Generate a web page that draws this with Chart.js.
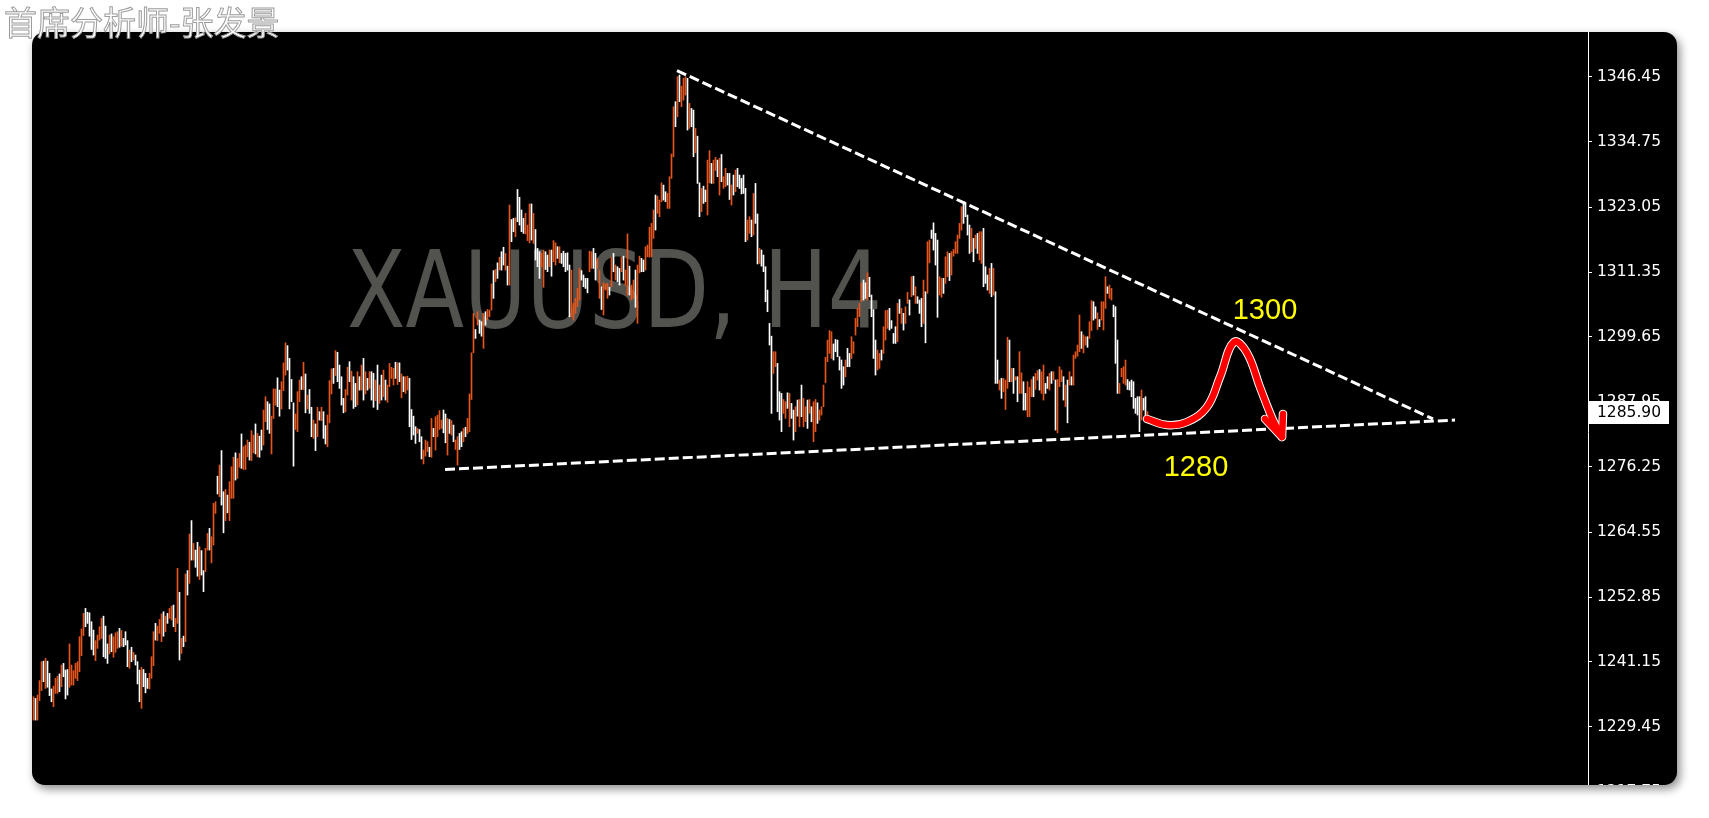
<!DOCTYPE html>
<html>
<head>
<meta charset="utf-8">
<script src="https://cdn.jsdelivr.net/npm/chart.js@4.4.1/dist/chart.umd.min.js"></script>
<style>
    body {
        margin: 0;
        width: 1709px;
        height: 818px;
        background: #ffffff;
        position: relative;
        overflow: hidden;
    }

    #author {
        position: absolute;
        left: 4px;
        top: 3px;
        z-index: 2;
        font-family: "Noto Sans CJK SC", sans-serif;
        font-size: 33px;
        line-height: 36px;
        color: #ffffff;
        -webkit-text-stroke: 1px #9c9c9c;
        white-space: nowrap;
    }

    #panel {
        position: absolute;
        left: 32px;
        top: 32px;
        width: 1645px;
        height: 753px;
        background: #000000;
        border-radius: 13px;
        overflow: hidden;
        box-shadow: 3px 4px 10px rgba(0, 0, 0, 0.45);
    }

    #panel canvas {
        position: absolute;
        left: 0;
        top: 0;
    }
</style>
</head>
<body>
<div id="author">首席分析师-张发景</div>
<div id="panel"><canvas id="price-chart" width="1645" height="800"></canvas></div>

<script>
// =========================================================
// DATA
// =========================================================

    const symbolLabel = "XAUUSD, H4";
    const lastPrice = 1285.90;

    const priceTicks = [1346.45, 1334.75, 1323.05, 1311.35, 1299.65, 1287.95, 1276.25, 1264.55, 1252.85, 1241.15, 1229.45, 1217.75];

    // one entry per H4 bar, oldest first
    const barHighs = [
        1234.9,1234.6,1235.2,1237.8,1241.2,1241.3,1241.8,1241.3,1239.1,1236.3,
        1236.8,1238.2,1238.6,1239.0,1240.6,1240.9,1239.7,1239.8,1244.4,1240.6,
        1239.6,1240.9,1241.2,1245.7,1247.1,1249.9,1250.8,1250.1,1250.0,1248.4,
        1246.9,1245.0,1246.0,1247.5,1249.0,1249.4,1247.6,1244.4,1246.0,1246.2,
        1245.7,1246.4,1246.6,1247.2,1246.8,1245.4,1246.6,1245.0,1243.3,1243.8,
        1242.9,1242.4,1241.2,1239.7,1240.2,1239.8,1239.1,1238.2,1239.1,1242.1,
        1246.6,1248.1,1247.6,1248.8,1249.8,1250.2,1249.4,1249.9,1250.8,1251.2,
        1251.4,1249.0,1258.0,1253.7,1245.4,1245.8,1257.0,1257.6,1264.2,1266.6,
        1262.5,1261.3,1262.7,1261.9,1261.2,1257.6,1261.6,1264.3,1265.2,1263.7,
        1269.7,1270.0,1274.6,1276.6,1279.2,1271.8,1272.2,1271.2,1273.6,1276.3,
        1278.0,1278.8,1277.8,1278.7,1282.2,1279.9,1280.2,1281.1,1280.7,1282.8,
        1282.0,1284.0,1282.3,1281.8,1282.9,1286.5,1288.9,1288.0,1287.6,1285.4,
        1290.3,1290.3,1292.3,1290.1,1291.6,1295.0,1298.6,1298.1,1295.8,1292.0,
        1287.8,1285.8,1289.8,1291.9,1292.5,1295.1,1293.0,1289.2,1290.2,1287.0,
        1284.7,1284.0,1287.0,1286.2,1287.0,1286.2,1283.7,1285.6,1291.8,1293.9,
        1294.0,1297.2,1296.9,1294.6,1292.5,1288.6,1290.2,1294.2,1295.2,1293.5,
        1292.5,1291.3,1293.4,1292.5,1294.6,1295.8,1293.4,1292.2,1293.4,1293.4,
        1293.1,1291.9,1294.6,1291.0,1292.8,1293.7,1291.9,1291.0,1294.9,1294.2,
        1294.0,1295.1,1295.0,1295.0,1293.0,1292.5,1292.5,1292.6,1292.2,1286.6,
        1285.4,1283.5,1283.2,1283.0,1281.7,1279.3,1281.1,1280.8,1279.8,1285.0,
        1283.2,1285.3,1285.6,1286.4,1284.7,1286.5,1285.8,1285.0,1284.8,1284.6,
        1283.8,1281.1,1281.7,1282.3,1282.6,1283.2,1283.4,1285.0,1289.4,1296.8,
        1303.9,1301.0,1304.2,1302.7,1302.4,1303.9,1304.2,1304.6,1304.5,1309.2,
        1311.6,1311.8,1313.0,1314.0,1315.0,1315.8,1314.7,1312.4,1323.4,1320.8,
        1321.0,1321.1,1326.2,1324.8,1322.5,1321.0,1321.9,1319.8,1323.6,1323.6,
        1321.9,1319.0,1315.6,1315.0,1314.7,1315.3,1315.0,1314.4,1315.3,1315.3,
        1317.0,1316.6,1315.9,1315.9,1314.7,1315.1,1314.7,1314.8,1312.6,1311.7,
        1305.7,1306.6,1308.4,1312.0,1311.6,1310.8,1310.2,1310.2,1315.1,1315.0,
        1315.6,1314.7,1313.8,1311.7,1308.7,1309.4,1309.2,1309.3,1308.6,1314.0,
        1314.7,1312.6,1312.3,1312.0,1314.0,1314.2,1311.7,1318.2,1312.4,1309.0,
        1309.9,1311.7,1312.6,1314.2,1313.8,1313.5,1315.9,1316.2,1319.4,1320.1,
        1322.5,1325.2,1325.0,1324.3,1327.4,1327.0,1325.8,1325.5,1328.5,1332.6,
        1341.1,1342.0,1346.5,1346.8,1344.8,1346.2,1346.5,1346.2,1341.7,1340.8,
        1340.5,1337.2,1335.8,1327.4,1326.4,1326.8,1326.1,1331.5,1333.2,1330.9,
        1331.5,1332.0,1331.5,1331.8,1332.5,1328.5,1330.0,1329.1,1329.1,1327.0,
        1328.8,1329.7,1330.0,1328.8,1328.2,1328.8,1326.4,1320.7,1321.3,1320.7,
        1325.5,1327.3,1321.8,1315.6,1315.3,1314.4,1312.3,1308.1,1302.1,1299.8,
        1297.0,1297.0,1294.9,1289.8,1289.5,1288.4,1288.0,1289.6,1289.5,1287.7,
        1286.5,1287.1,1288.3,1288.4,1291.0,1288.6,1287.1,1288.3,1288.4,1287.1,
        1288.0,1288.4,1287.8,1286.5,1287.1,1291.0,1296.0,1299.1,1300.8,1300.6,
        1298.4,1299.2,1299.1,1296.1,1295.5,1294.3,1295.5,1297.6,1296.7,1299.7,
        1298.8,1303.0,1304.8,1305.7,1309.4,1309.9,1309.4,1311.2,1310.4,1307.2,
        1304.6,1299.1,1297.3,1296.7,1297.3,1301.5,1304.4,1304.5,1304.8,1302.6,
        1300.3,1301.5,1305.7,1306.4,1304.8,1303.9,1305.1,1307.7,1306.3,1310.5,
        1310.6,1308.7,1306.9,1306.3,1306.6,1309.9,1307.8,1316.8,1317.1,1318.9,
        1320.2,1318.3,1317.1,1310.5,1310.2,1310.2,1314.1,1315.0,1314.7,1315.0,
        1315.4,1316.8,1318.0,1320.1,1323.1,1324.0,1323.7,1321.6,1319.8,1319.2,
        1317.4,1318.0,1318.3,1318.6,1318.6,1319.2,1312.3,1310.8,1312.0,1312.9,
        1312.0,1307.8,1295.5,1291.9,1292.2,1292.2,1291.9,1299.6,1299.1,1294.0,
        1294.0,1292.5,1292.5,1297.0,1293.2,1291.6,1289.5,1291.6,1290.6,1292.0,
        1292.5,1293.1,1293.6,1293.8,1293.4,1294.6,1291.3,1292.5,1293.1,1293.4,
        1293.4,1291.9,1292.0,1294.3,1293.7,1292.5,1291.0,1291.9,1293.4,1292.5,
        1296.4,1297.0,1298.2,1303.6,1300.6,1300.0,1299.7,1299.7,1302.4,1306.2,
        1306.0,1305.1,1304.0,1302.8,1306.0,1306.0,1310.5,1308.7,1309.0,1308.4,
        1305.4,1305.1,1299.1,1291.3,1294.0,1294.3,1295.5,1292.0,1291.6,1291.9,
        1291.6,1288.6,1288.9,1288.9,1290.1,1288.6,1288.9,1286.2
    ];

    const barLows = [
        1230.7,1230.7,1230.7,1234.2,1236.0,1237.6,1236.4,1236.6,1235.1,1234.0,
        1233.1,1235.5,1235.5,1235.8,1236.7,1238.5,1234.5,1235.2,1236.6,1237.0,
        1237.0,1238.2,1237.8,1239.4,1242.3,1245.9,1247.5,1248.1,1245.8,1243.4,
        1242.4,1241.4,1243.6,1245.1,1245.4,1242.1,1241.8,1240.9,1242.6,1243.0,
        1242.0,1242.9,1243.6,1243.8,1244.0,1243.9,1244.2,1240.3,1240.0,1241.2,
        1241.5,1240.6,1237.2,1234.0,1232.8,1236.7,1235.6,1236.4,1236.3,1238.2,
        1240.5,1245.1,1245.0,1246.3,1244.8,1245.8,1246.6,1248.1,1249.0,1248.7,
        1247.5,1246.6,1248.1,1241.5,1242.7,1243.9,1244.8,1253.2,1255.3,1259.5,
        1259.5,1258.2,1256.6,1256.0,1256.8,1253.8,1257.4,1261.3,1261.3,1259.0,
        1262.2,1267.9,1271.4,1270.9,1269.4,1264.4,1266.6,1268.0,1266.6,1270.6,
        1270.6,1273.9,1274.2,1276.2,1276.0,1275.8,1275.8,1278.1,1277.5,1277.4,
        1278.8,1278.6,1278.1,1278.0,1279.3,1280.2,1284.4,1283.0,1282.3,1278.6,
        1285.0,1287.4,1287.1,1285.4,1286.7,1290.0,1292.8,1293.7,1286.7,1288.0,
        1276.4,1283.0,1282.6,1288.0,1290.2,1290.2,1286.0,1286.7,1285.9,1281.7,
        1281.4,1279.2,1281.7,1284.7,1284.6,1281.4,1280.4,1279.9,1284.2,1289.4,
        1291.3,1292.7,1291.6,1290.4,1287.4,1286.0,1286.2,1289.2,1291.6,1288.3,
        1286.8,1287.1,1287.4,1290.1,1290.1,1288.3,1289.4,1290.1,1290.4,1288.3,
        1287.0,1288.2,1286.6,1287.7,1288.3,1288.9,1288.3,1287.9,1290.7,1292.2,
        1291.0,1292.2,1291.1,1291.6,1288.7,1289.8,1289.5,1290.1,1283.5,1281.2,
        1282.0,1280.5,1282.3,1280.8,1277.7,1276.8,1278.2,1279.0,1278.1,1278.0,
        1281.7,1279.3,1281.7,1283.0,1283.2,1282.4,1280.6,1278.4,1282.3,1282.0,
        1280.8,1279.4,1276.6,1279.4,1279.9,1280.8,1281.7,1282.3,1282.6,1288.4,
        1296.8,1299.4,1301.8,1300.3,1299.8,1297.6,1301.8,1302.7,1303.3,1304.5,
        1306.6,1309.6,1310.2,1311.7,1311.7,1312.6,1311.7,1309.0,1309.0,1316.8,
        1318.6,1317.7,1320.4,1319.8,1318.6,1318.3,1318.2,1317.0,1316.6,1317.1,
        1316.5,1313.5,1312.3,1310.2,1312.3,1308.6,1311.8,1311.4,1312.3,1310.6,
        1313.2,1312.6,1313.8,1313.0,1312.9,1312.3,1311.4,1311.7,1303.3,1303.3,
        1302.7,1303.9,1305.1,1306.3,1309.9,1308.7,1308.4,1307.6,1311.4,1312.0,
        1312.0,1309.9,1312.0,1306.6,1304.6,1303.6,1308.1,1306.6,1307.2,1308.7,
        1311.4,1309.9,1309.6,1309.0,1311.4,1309.9,1309.0,1307.2,1307.2,1306.3,
        1306.6,1305.0,1302.1,1311.2,1311.4,1311.4,1311.7,1314.1,1314.0,1314.1,
        1317.4,1318.9,1321.9,1321.3,1324.0,1324.3,1324.0,1322.8,1322.8,1328.2,
        1332.1,1337.5,1339.3,1342.0,1341.1,1342.3,1343.2,1336.9,1337.2,1337.5,
        1332.1,1332.8,1327.3,1321.3,1322.2,1323.7,1324.0,1321.6,1327.4,1327.3,
        1327.3,1329.6,1328.5,1325.2,1327.6,1326.4,1326.7,1327.0,1324.4,1323.4,
        1325.2,1325.8,1326.7,1326.4,1325.4,1325.5,1316.8,1317.1,1318.3,1317.7,
        1318.0,1320.1,1312.8,1312.9,1312.4,1311.4,1306.0,1304.2,1298.2,1285.9,
        1293.1,1294.3,1286.2,1284.7,1282.6,1285.9,1285.0,1286.8,1283.5,1285.0,
        1281.1,1282.6,1285.4,1283.5,1285.3,1283.5,1284.4,1283.2,1285.9,1284.4,
        1280.8,1282.6,1284.1,1284.7,1285.6,1287.1,1291.4,1295.2,1296.7,1295.8,
        1295.5,1297.0,1296.1,1293.7,1290.4,1291.0,1292.5,1294.3,1294.3,1295.8,
        1296.7,1300.0,1301.5,1303.3,1306.0,1306.3,1306.6,1306.3,1306.9,1303.3,
        1295.8,1292.8,1293.7,1294.0,1295.5,1296.7,1299.1,1301.2,1300.9,1301.2,
        1298.5,1298.5,1298.8,1303.9,1302.1,1300.9,1302.1,1305.7,1303.6,1306.9,
        1307.2,1305.7,1305.7,1303.9,1301.5,1302.1,1298.6,1307.5,1313.0,1317.4,
        1315.3,1312.6,1303.2,1307.2,1306.8,1307.5,1309.3,1310.5,1309.8,1310.8,
        1314.2,1314.7,1314.7,1317.4,1318.9,1320.1,1321.3,1318.0,1314.7,1315.0,
        1313.2,1315.6,1314.7,1313.5,1312.9,1308.7,1309.3,1308.1,1307.5,1306.9,
        1307.2,1291.3,1291.3,1290.1,1288.6,1289.8,1286.6,1290.4,1291.6,1291.6,
        1289.5,1291.9,1288.0,1289.5,1289.5,1286.5,1286.5,1285.3,1285.3,1288.9,
        1288.9,1290.2,1291.9,1290.1,1289.5,1288.3,1289.5,1290.4,1290.1,1291.3,
        1291.9,1282.9,1282.4,1290.7,1291.6,1288.3,1287.1,1284.2,1291.0,1291.0,
        1291.0,1295.8,1296.2,1297.0,1297.6,1296.8,1298.2,1297.8,1299.4,1300.8,
        1302.7,1303.0,1301.0,1301.5,1302.7,1300.9,1304.8,1307.5,1306.6,1306.3,
        1303.3,1294.9,1289.5,1289.5,1292.5,1291.3,1291.0,1290.2,1290.1,1288.9,
        1286.8,1285.9,1285.6,1282.6,1284.7,1286.5,1285.3,1284.7
    ];

    // 1 = orange bar, 0 = white bar
    const barUp = [
        1,0,1,1,1,0,1,0,0,0, 1,1,1,0,1,0,0,0,1,1, 1,1,1,1,1,1,0,0,0,0, 0,1,1,1,1,0,0,0,1,0,
        1,1,1,0,1,0,0,0,1,0, 1,0,0,0,1,0,0,0,1,1, 1,0,1,1,1,0,1,0,1,1, 0,1,1,0,1,0,1,0,1,0,
        1,0,0,1,0,0,1,1,0,1, 1,1,0,1,0,0,1,0,1,1, 1,0,1,1,0,1,1,1,0,1, 1,0,1,0,0,1,1,0,0,1,
        1,1,0,0,1,1,1,0,0,0, 0,1,1,1,0,1,0,1,0,0, 1,0,1,0,1,0,0,1,1,1, 0,1,0,0,0,0,1,1,0,1,
        0,0,1,0,1,0,1,0,1,0, 0,1,0,1,0,1,0,1,1,1, 1,0,1,0,1,0,1,1,0,0, 0,0,1,0,0,1,1,1,0,1,
        0,1,1,1,1,0,0,1,0,1, 0,1,1,0,0,1,0,1,1,1, 1,0,1,0,0,1,0,1,1,1, 0,1,0,1,0,0,1,0,1,0,
        0,1,0,0,0,0,1,1,1,0, 1,0,0,0,1,1,0,0,1,0, 1,1,0,1,0,0,0,0,0,1, 1,1,1,1,0,0,0,0,1,1,
        0,0,1,1,0,1,1,1,0,1, 0,1,0,0,1,0,1,1,0,1, 1,0,1,1,0,0,1,1,1,1, 1,0,1,1,1,0,0,1,1,1,
        1,0,1,0,1,1,1,0,1,0, 0,1,0,0,1,0,0,1,1,0, 1,1,0,1,0,1,1,0,0,1, 0,1,0,0,0,0,0,1,1,0,
        1,0,0,1,0,0,0,0,0,0, 1,1,0,0,0,1,1,0,1,0, 0,1,0,1,0,1,1,0,1,0, 1,1,0,1,1,1,1,1,1,1,
        0,0,0,0,0,0,1,0,0,1, 1,1,1,1,1,0,0,1,0,0, 0,0,1,1,0,1,1,1,0,0, 0,0,1,0,1,0,1,1,0,1,
        0,1,0,0,0,1,0,1,1,0, 0,0,0,1,1,0,1,1,0,1, 1,1,1,1,1,0,0,0,0,1, 0,1,0,1,1,0,0,0,1,0,
        1,0,0,1,0,1,1,1,0,1, 0,1,0,1,1,0,0,1,1,1, 0,1,1,0,1,1,0,0,1,0, 1,0,1,1,1,0,1,0,1,0,
        1,1,1,1,0,1,1,0,1,1, 0,0,1,0,1,1,1,0,1,1, 0,0,0,1,1,1,1,0,0,0, 0,0,0,0,1,0,0,1
    ];

    // drawn trend lines, as [bar index, price]
    const upperTrendX = [321.75, 699.75];
    const upperTrendY = [1347.6, 1284.9];
    const lowerTrendX = [205.75, 710.75];
    const lowerTrendY = [1275.8, 1284.7];

    // forecast path: small dip, bounce towards 1300, then break down
    const forecastX = [556.75, 566.75, 576.75, 586.75, 593.25, 600.25, 606.75, 613.25, 619.75, 624.25];
    const forecastY = [1284.9, 1283.8, 1284.35, 1287.05, 1292.45, 1298.75, 1296.8, 1290.6, 1284.7, 1281.65];
    const arrowHeadX = [615.75, 624.25, 624.75];
    const arrowHeadY = [1284.9, 1281.65, 1285.8];

    const levelTexts = ["1300", "1280"];
    const levelX = [615.75, 581.25];
    const levelY = [1304.4, 1276.1];

// =========================================================
// PLUGINS
// =========================================================

    const symbolWatermark = {
        id: "symbolWatermark",
        beforeDatasetsDraw(chart) {
            const ctx = chart.ctx;
            ctx.save();
            ctx.font = '107px "DejaVu Sans"';
            ctx.fillStyle = "#52524e";
            ctx.textBaseline = "alphabetic";
            const textWidth = ctx.measureText(symbolLabel).width;
            ctx.translate(315, 295);
            ctx.scale(535 / textWidth, 1);
            ctx.fillText(symbolLabel, 0, 0);
            ctx.restore();
        }
    };

    const levelLabels = {
        id: "levelLabels",
        afterDatasetsDraw(chart) {
            const ctx = chart.ctx;
            ctx.save();
            ctx.font = '29px "Liberation Sans"';
            ctx.fillStyle = "#ffff00";
            ctx.textAlign = "center";
            ctx.textBaseline = "middle";
            for (let i = 0; i < levelTexts.length; i++) {
                const x = chart.scales.x.getPixelForValue(levelX[i]);
                const y = chart.scales.y.getPixelForValue(levelY[i]);
                ctx.fillText(levelTexts[i], x, y);
            }
            ctx.restore();
        }
    };

    const lastPriceTag = {
        id: "lastPriceTag",
        afterDraw(chart) {
            const ctx = chart.ctx;
            const y = chart.scales.y.getPixelForValue(lastPrice);
            const left = chart.chartArea.right + 1;
            ctx.save();
            ctx.fillStyle = "#ffffff";
            ctx.fillRect(left, Math.round(y) - 12, 80, 23);
            ctx.fillStyle = "#000000";
            ctx.font = '15.5px "DejaVu Sans"';
            ctx.textBaseline = "middle";
            ctx.fillText(lastPrice.toFixed(2), left + 8, y);
            ctx.restore();
        }
    };

// =========================================================
// CHART
// =========================================================

    function toPoints(xs, ys) {
        return xs.map((x, i) => ({ x: x, y: ys[i] }));
    }

    function trendDataset(xs, ys) {
        return {
            type: "line",
            data: toPoints(xs, ys),
            borderColor: "#ffffff",
            borderWidth: 3,
            borderDash: [10, 4],
            pointRadius: 0,
            order: 5
        };
    }

    function arrowDataset(xs, ys, color, width, tension, order) {
        return {
            type: "line",
            data: toPoints(xs, ys),
            borderColor: color,
            borderWidth: width,
            borderCapStyle: "round",
            borderJoinStyle: "round",
            tension: tension,
            pointRadius: 0,
            order: order
        };
    }

    const bars = barHighs.map((high, i) => ({ x: i, y: [barLows[i], high] }));

    new Chart(document.getElementById("price-chart"), {
        type: "bar",
        data: {
            datasets: [
                {
                    data: bars,
                    backgroundColor: barUp.map(up => up ? "#e5561d" : "#ffffff"),
                    borderWidth: 0,
                    barThickness: 1,
                    order: 10
                },
                trendDataset(upperTrendX, upperTrendY),
                trendDataset(lowerTrendX, lowerTrendY),
                arrowDataset(forecastX, forecastY, "#ffffff", 8.5, 0.4, 3),
                arrowDataset(arrowHeadX, arrowHeadY, "#ffffff", 8.5, 0, 3),
                arrowDataset(forecastX, forecastY, "#ff0000", 6.5, 0.4, 1),
                arrowDataset(arrowHeadX, arrowHeadY, "#ff0000", 6.5, 0, 1)
            ]
        },
        options: {
            responsive: false,
            animation: false,
            layout: { padding: 0 },
            plugins: {
                legend: { display: false },
                tooltip: { enabled: false }
            },
            scales: {
                x: {
                    type: "linear",
                    display: false,
                    offset: false,
                    min: -0.75,
                    max: 777.25
                },
                y: {
                    position: "right",
                    min: 1210.55,
                    max: 1354.55,
                    afterBuildTicks: scale => {
                        scale.ticks = priceTicks.map(value => ({ value: value }));
                    },
                    afterFit: scale => {
                        scale.width = 89;
                        scale.paddingTop = 0;
                        scale.paddingBottom = 0;
                    },
                    grid: {
                        drawOnChartArea: false,
                        drawTicks: true,
                        tickLength: 4,
                        color: "#ffffff"
                    },
                    border: { display: true, color: "#ffffff", width: 1 },
                    ticks: {
                        color: "#ffffff",
                        padding: 5,
                        autoSkip: false,
                        font: { family: "DejaVu Sans", size: 15.5 },
                        callback: value => value.toFixed(2)
                    }
                }
            }
        },
        plugins: [symbolWatermark, levelLabels, lastPriceTag]
    });
</script>
</body>
</html>
